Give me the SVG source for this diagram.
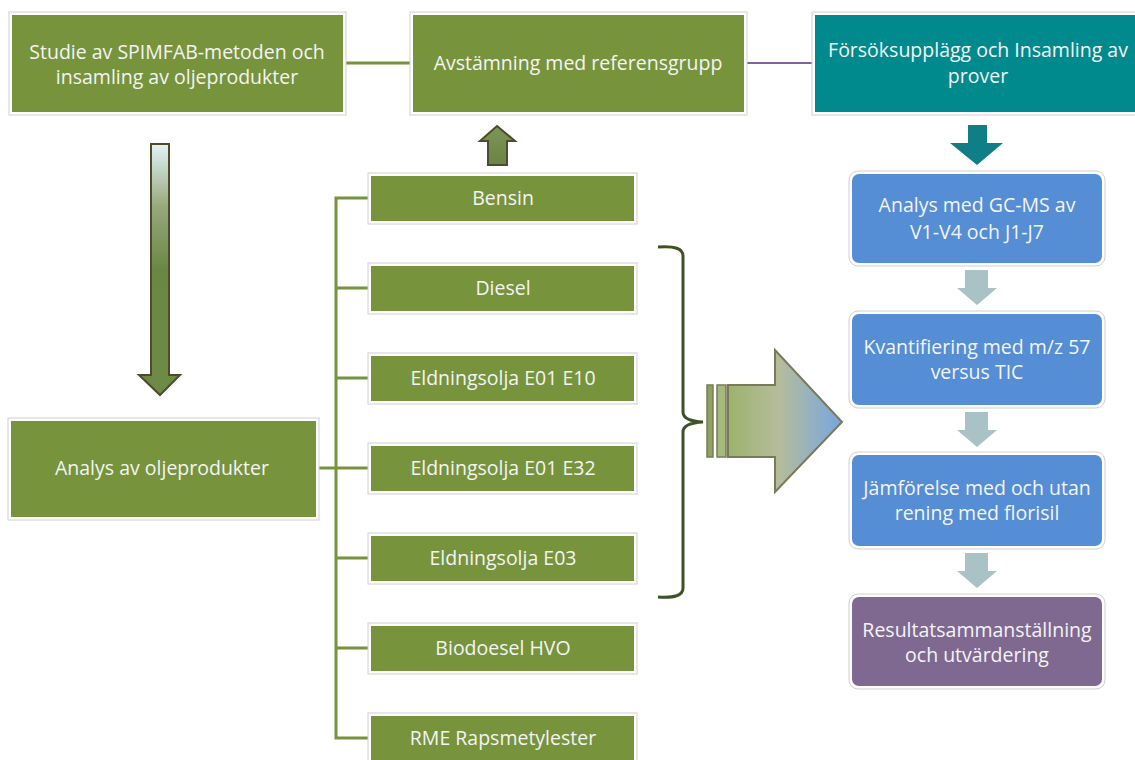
<svg xmlns="http://www.w3.org/2000/svg" width="1135" height="760" viewBox="0 0 1135 760">
<defs>
<linearGradient id="gLeft" x1="0" y1="0" x2="0" y2="1">
<stop offset="0" stop-color="#E2F3F6"/>
<stop offset="0.25" stop-color="#96A97C"/>
<stop offset="0.5" stop-color="#6C8744"/>
<stop offset="1" stop-color="#6E8B45"/>
</linearGradient>
<linearGradient id="gBig" x1="0" y1="0" x2="1" y2="0">
<stop offset="0" stop-color="#9CB36D"/>
<stop offset="0.45" stop-color="#B6BC9C"/>
<stop offset="1" stop-color="#76A6E0"/>
</linearGradient>
<linearGradient id="gUp" x1="0" y1="0" x2="0" y2="1">
<stop offset="0" stop-color="#7D9658"/>
<stop offset="1" stop-color="#6A8443"/>
</linearGradient>
<style>
.frame{fill:#ffffff;stroke:#CFCFCF;stroke-width:1}
.g{fill:#77933C}
.t{fill:#008A8E}
.b{fill:#558ED5}
.p{fill:#7F6991}
.txt{font-family:"Open Sans","Liberation Sans",sans-serif;font-size:19.5px;fill:#F4F4F4;text-anchor:middle}
.conn{fill:none;stroke:#77933C;stroke-width:3}
.sm{fill:#A9C2C6}
</style>
</defs>

<g id="connectors">
<line class="conn" x1="345" y1="63" x2="411" y2="63"/>
<line x1="747" y1="63" x2="812" y2="63" stroke="#8064A2" stroke-width="2"/>
<line class="conn" x1="318" y1="468" x2="337" y2="468"/>
<path class="conn" d="M370 198 H336 V738 H370 M336 288 H370 M336 378 H370 M336 468 H370 M336 558 H370 M336 648 H370"/>
</g>

<g id="node-studie">
<rect class="frame" x="9" y="12" width="337" height="103"/>
<rect class="g" x="12" y="15" width="331" height="97"/>
<text class="txt" x="177" y="59">Studie av SPIMFAB-metoden och</text>
<text class="txt" x="177" y="84">insamling av oljeprodukter</text>
</g>

<g id="node-avstamning">
<rect class="frame" x="410" y="12" width="337" height="103"/>
<rect class="g" x="413" y="15" width="331" height="97"/>
<text class="txt" x="578" y="70">Avstämning med referensgrupp</text>
</g>

<g id="node-forsok">
<rect class="frame" x="812" y="12" width="330" height="103"/>
<rect class="t" x="815" y="15" width="330" height="97"/>
<text class="txt" x="978" y="57">Försöksupplägg och Insamling av</text>
<text class="txt" x="978" y="83">prover</text>
</g>

<g id="arrow-left-down">
<path d="M151 144 H169 V375 H180 L160 395 L139 375 H151 Z" fill="url(#gLeft)" stroke="#4F4B2E" stroke-width="2"/>
</g>

<g id="arrow-up">
<path d="M497 126 L515 141 H507 V165 H488 V141 H480 Z" fill="url(#gUp)" stroke="#4F4B2E" stroke-width="2"/>
</g>

<g id="arrow-teal-down">
<path d="M968 125 H987 V143 H1003 L977 165 L950 143 H968 Z" fill="#0F7E86"/>
</g>

<g id="node-analys">
<rect class="frame" x="8" y="418" width="311" height="102"/>
<rect class="g" x="11" y="421" width="305" height="96"/>
<text class="txt" x="162" y="475">Analys av oljeprodukter</text>
</g>

<g id="node-bensin">
<rect class="frame" x="368" y="173" width="269" height="51"/>
<rect class="g" x="371" y="176" width="263" height="45"/>
<text class="txt" x="503" y="205">Bensin</text>
</g>
<g id="node-diesel">
<rect class="frame" x="368" y="263" width="269" height="51"/>
<rect class="g" x="371" y="266" width="263" height="45"/>
<text class="txt" x="503" y="295">Diesel</text>
</g>
<g id="node-e10">
<rect class="frame" x="368" y="353" width="269" height="51"/>
<rect class="g" x="371" y="356" width="263" height="45"/>
<text class="txt" x="503" y="385">Eldningsolja E01 E10</text>
</g>
<g id="node-e32">
<rect class="frame" x="368" y="443" width="269" height="51"/>
<rect class="g" x="371" y="446" width="263" height="45"/>
<text class="txt" x="503" y="475">Eldningsolja E01 E32</text>
</g>
<g id="node-e03">
<rect class="frame" x="368" y="533" width="269" height="51"/>
<rect class="g" x="371" y="536" width="263" height="45"/>
<text class="txt" x="503" y="565">Eldningsolja E03</text>
</g>
<g id="node-hvo">
<rect class="frame" x="368" y="623" width="269" height="51"/>
<rect class="g" x="371" y="626" width="263" height="45"/>
<text class="txt" x="503" y="655">Biodoesel HVO</text>
</g>
<g id="node-rme">
<rect class="frame" x="368" y="713" width="269" height="51"/>
<rect class="g" x="371" y="716" width="263" height="45"/>
<text class="txt" x="503" y="745">RME Rapsmetylester</text>
</g>

<g id="bracket">
<path d="M658 247 Q683 245 683 256 V412 Q683 421 703 422 Q683 423 683 432 V588 Q683 599 658 597" fill="none" stroke="#3E5226" stroke-width="3"/>
</g>

<g id="arrow-big">
<rect x="707" y="385" width="6" height="72" fill="#8FA35E" stroke="#7A7A5A" stroke-width="1.5"/>
<rect x="717" y="385" width="9" height="72" fill="#A3BA7B" stroke="#7A7A5A" stroke-width="1.5"/>
<path d="M728 385 H775 V350 L842 422 L775 492 V457 H728 Z" fill="url(#gBig)" stroke="#7A7A5A" stroke-width="2"/>
</g>

<g id="node-gcms">
<rect x="849" y="171" width="256" height="95" rx="9" fill="#fff" stroke="#CFCFCF" stroke-width="1"/>
<rect class="b" x="852" y="174" width="250" height="89" rx="7"/>
<text class="txt" x="977" y="212">Analys med GC-MS av</text>
<text class="txt" x="977" y="239">V1-V4 och J1-J7</text>
</g>
<g id="arrow-s1"><path class="sm" d="M965 270 H988 V288 H997 L977 305 L957 288 H965 Z"/></g>
<g id="node-kvant">
<rect x="849" y="311" width="256" height="97" rx="9" fill="#fff" stroke="#CFCFCF" stroke-width="1"/>
<rect class="b" x="852" y="314" width="250" height="91" rx="7"/>
<text class="txt" x="977" y="354">Kvantifiering med m/z 57</text>
<text class="txt" x="977" y="379">versus TIC</text>
</g>
<g id="arrow-s2"><path class="sm" d="M965 412 H988 V430 H997 L977 447 L957 430 H965 Z"/></g>
<g id="node-jamf">
<rect x="849" y="452" width="256" height="97" rx="9" fill="#fff" stroke="#CFCFCF" stroke-width="1"/>
<rect class="b" x="852" y="455" width="250" height="91" rx="7"/>
<text class="txt" x="977" y="495">Jämförelse med och utan</text>
<text class="txt" x="977" y="520">rening med florisil</text>
</g>
<g id="arrow-s3"><path class="sm" d="M965 553 H988 V571 H997 L977 588 L957 571 H965 Z"/></g>
<g id="node-result">
<rect x="849" y="594" width="256" height="95" rx="9" fill="#fff" stroke="#CFCFCF" stroke-width="1"/>
<rect class="p" x="852" y="597" width="250" height="89" rx="7"/>
<text class="txt" x="977" y="637">Resultatsammanställning</text>
<text class="txt" x="977" y="662">och utvärdering</text>
</g>
</svg>
